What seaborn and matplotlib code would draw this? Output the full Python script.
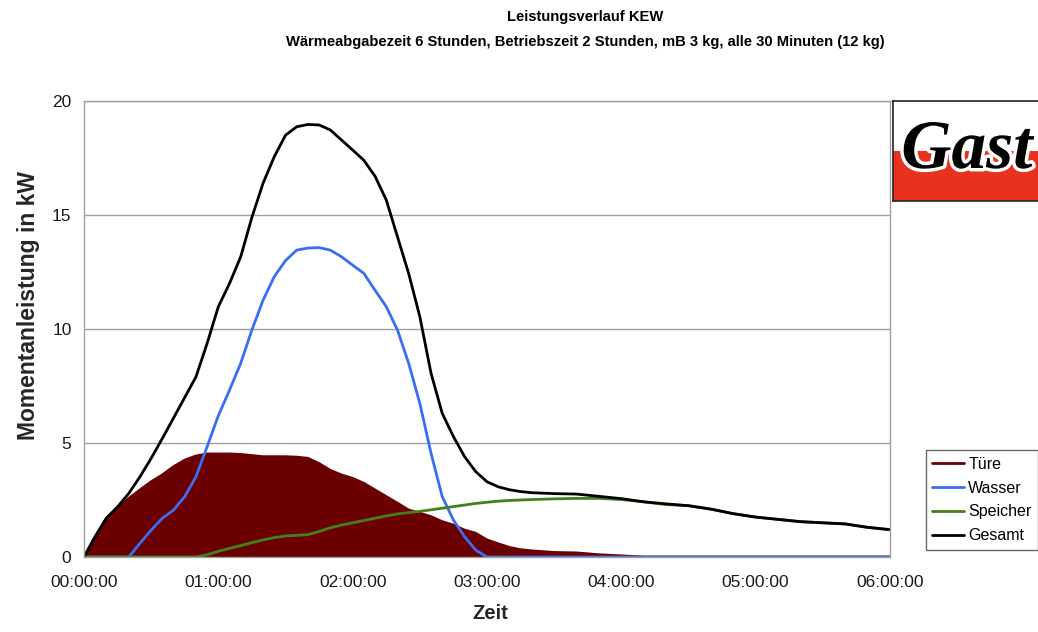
import numpy as np
import pandas as pd
import matplotlib
matplotlib.use("Agg")
import matplotlib.pyplot as plt
import matplotlib.patheffects as pe
from matplotlib.ticker import MultipleLocator, FuncFormatter
import seaborn as sns

# Time in minutes: every 5 minutes up to 03:20, then every 10 minutes up to 06:00
minutes = list(range(0, 201, 5)) + list(range(210, 361, 10))

# Power values in kW
tuere = [0, 0.89, 1.7, 2.14, 2.57, 2.94, 3.3, 3.6, 3.96, 4.25, 4.43, 4.52, 4.52, 4.52,
         4.5, 4.45, 4.4, 4.4, 4.4, 4.38, 4.33, 4.1, 3.8, 3.6, 3.45, 3.23, 2.94, 2.65,
         2.36, 2.06, 1.92, 1.77, 1.55, 1.4, 1.18, 1.04, 0.75, 0.58, 0.42, 0.32, 0.27,
         0.2, 0.18, 0.1, 0.05, 0, 0, 0, 0, 0, 0, 0, 0, 0, 0, 0, 0]
wasser = [0, 0, 0, 0, 0, 0.6, 1.18, 1.7, 2.06, 2.65, 3.52, 4.84, 6.2, 7.32, 8.5, 9.96,
          11.27, 12.3, 13.0, 13.46, 13.55, 13.57, 13.46, 13.17, 12.8, 12.44, 11.7, 10.98,
          9.96, 8.5, 6.74, 4.55, 2.65, 1.62, 0.89, 0.3, 0, 0, 0, 0, 0,
          0, 0, 0, 0, 0, 0, 0, 0, 0, 0, 0, 0, 0, 0, 0, 0]
speicher = [0, 0, 0, 0, 0, 0, 0, 0, 0, 0, 0, 0.1, 0.25, 0.38, 0.5, 0.63, 0.75, 0.85,
            0.92, 0.95, 0.98, 1.12, 1.28, 1.4, 1.5, 1.6, 1.7, 1.8, 1.89, 1.95, 2.0, 2.07,
            2.14, 2.21, 2.28, 2.35, 2.4, 2.45, 2.48, 2.5, 2.52,
            2.55, 2.57, 2.57, 2.52, 2.42, 2.3, 2.25, 2.1, 1.9, 1.75, 1.65, 1.55, 1.5,
            1.45, 1.3, 1.2]
gesamt = [0, 0.89, 1.7, 2.2, 2.79, 3.52, 4.33, 5.2, 6.1, 7.0, 7.9, 9.37, 10.98, 12.0,
          13.17, 14.9, 16.4, 17.56, 18.5, 18.87, 18.97, 18.95, 18.73, 18.29, 17.85, 17.4,
          16.7, 15.66, 14.05, 12.44, 10.54, 8.06, 6.3, 5.28, 4.4, 3.74, 3.3, 3.08, 2.95,
          2.87, 2.82,
          2.78, 2.76, 2.66, 2.56, 2.42, 2.33, 2.25, 2.1, 1.9, 1.75, 1.65, 1.55, 1.5,
          1.45, 1.3, 1.2]

series_names = ["Türe", "Wasser", "Speicher", "Gesamt"]
colors = {"Türe": "#6b0000", "Wasser": "#3a6cf4", "Speicher": "#44801c", "Gesamt": "#000000"}

title_text = ("Leistungsverlauf KEW\n"
              "Wärmeabgabezeit 6 Stunden, Betriebszeit 2 Stunden, mB 3 kg, alle 30 Minuten (12 kg)")

# long format table for seaborn
df = pd.DataFrame({
    "Zeit": minutes * 4,
    "Serie": sum([[n] * len(minutes) for n in series_names], []),
    "Wert": tuere + wasser + speicher + gesamt,
})

sns.set_style("white")
plt.rcParams["font.family"] = ["Liberation Sans", "DejaVu Sans"]
plt.rcParams["text.color"] = "black"

fig = plt.figure(figsize=(10.38, 6.32), dpi=100)
ax = fig.add_axes([84 / 1038, 1 - 557 / 632, 806 / 1038, 456 / 632])

# area for Türe
ax.fill_between(minutes, tuere, 0, color=colors["Türe"], lw=0, zorder=1.5)

sns.lineplot(data=df, x="Zeit", y="Wert", hue="Serie", hue_order=series_names,
             palette=colors, linewidth=2.0, ax=ax, zorder=2)

ax.set_xlim(0, 360)
ax.set_ylim(0, 20)
ax.set_yticks([0, 5, 10, 15, 20])
ax.xaxis.set_major_locator(MultipleLocator(60))
ax.xaxis.set_minor_locator(MultipleLocator(10))
ax.xaxis.set_major_formatter(FuncFormatter(lambda v, p: f"{int(v) // 60:02d}:{int(v) % 60:02d}:00"))

ax.set_axisbelow(True)
ax.yaxis.grid(True, color="#a0a0a0", lw=1.0)
ax.xaxis.grid(False)
for s in ax.spines.values():
    s.set_color("#a0a0a0")
    s.set_linewidth(1.0)

ax.tick_params(axis="both", which="both", direction="out", length=5, width=1,
               color="#808080", labelsize=12.5, labelcolor="#1a1a1a")
ax.tick_params(axis="x", which="both", pad=8)
ax.tick_params(axis="y", pad=4)

ax.set_xlabel("Zeit", fontsize=14.5, fontweight="bold")
ax.set_ylabel("Momentanleistung in kW", fontsize=16.5, fontweight="bold")
ax.xaxis.set_label_coords((490 - 84) / 806, (557 - 604) / 456)
ax.yaxis.set_label_coords((40 - 84) / 806, (557 - 305) / 456)

fig.text(585 / 1038, 1 - 10 / 632, title_text, ha="center", va="top",
         fontsize=10.6, fontweight="bold", linespacing=2.0)

# legend outside the plot area
handles, labels = ax.get_legend_handles_labels()
ax.get_legend().remove()
leg = fig.legend(handles, labels, loc="center", bbox_to_anchor=(982 / 1038, 1 - 500 / 632),
                 fontsize=11.5, frameon=True, fancybox=False, edgecolor="#444444",
                 handlelength=2.0, handletextpad=0.25, labelspacing=0.55,
                 borderpad=0.4, borderaxespad=0)
leg.get_frame().set_linewidth(1.0)
for h in leg.get_lines():
    h.set_linewidth(2.0)

# "Gast" logo box in the top right corner
logo = fig.add_axes([893 / 1038, 1 - 201 / 632, 0.2, 100 / 632])
logo.set_xlim(0, 1)
logo.set_ylim(0, 1)
logo.axhspan(0, 0.5, color="#e8321f", lw=0)
logo.set_xticks([])
logo.set_yticks([])
for s in logo.spines.values():
    s.set_color("#222222")
    s.set_linewidth(1.2)
logo.text(0.04, 0.5, "Gast", fontsize=50, fontweight="bold", fontstyle="italic",
          family=["Liberation Serif", "DejaVu Serif"], color="black", ha="left", va="center",
          path_effects=[pe.withStroke(linewidth=5, foreground="white")])

fig.savefig("out.png", dpi=100)
